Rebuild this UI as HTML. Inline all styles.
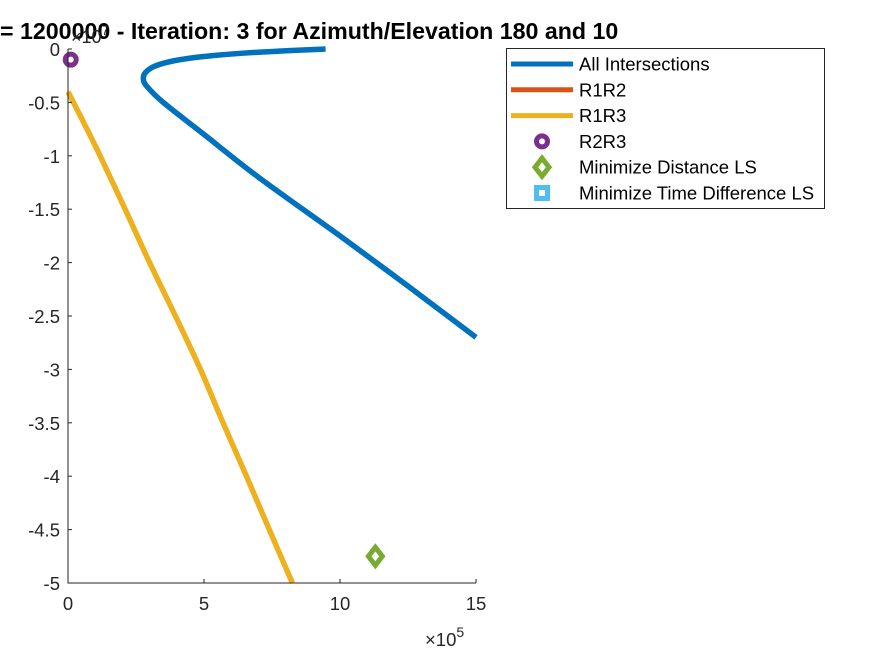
<!DOCTYPE html>
<html><head><meta charset="utf-8"><style>
body{margin:0;background:#fff;}
svg text{font-family:"Liberation Sans",Arial,sans-serif;}
</style></head><body>
<svg id="chart" width="875" height="656" xmlns="http://www.w3.org/2000/svg">
<g id="marks"></g>
<g id="axes"></g>
<text x="0" y="39" font-size="23.2" font-weight="bold" fill="#000">= 1200000 - Iteration: 3 for Azimuth/Elevation 180 and 10</text>
<text x="71" y="43" font-size="18" fill="#262626">×10<tspan dy="-8" font-size="14">7</tspan></text>
<text x="425" y="646" font-size="18.5" fill="#262626">×10<tspan dy="-9" font-size="14">5</tspan></text>
<g>
<rect x="506.5" y="48.5" width="318" height="160" fill="#fff" stroke="#262626" stroke-width="1"/>
<g id="legend-items"></g>
</g>
</svg>
<script>
const xTicks=[0,5,10,15];
const yTicks=[0,-0.5,-1,-1.5,-2,-2.5,-3,-3.5,-4,-4.5,-5];
const yTickLabels=['0','-0.5','-1','-1.5','-2','-2.5','-3','-3.5','-4','-4.5','-5'];
const allX=[9.47,7,5,3.9,3.2,2.85,2.77,2.9,3.5,5,7,10,12.5,15];
const allY=[0.0,-0.03,-0.07,-0.11,-0.16,-0.22,-0.28,-0.35,-0.5,-0.8,-1.2,-1.75,-2.22,-2.7];
const r13X=[0,0.5,1.18,2.1,3.0,3.95,4.87,5.7,6.56,7.4,8.25];
const r13Y=[-0.4,-0.65,-1,-1.5,-2,-2.5,-3,-3.5,-4,-4.5,-5];
const r23=[0.1,-0.1];
const minDist=[11.3,-4.75];
const legendLabels=['All Intersections','R1R2','R1R3','R2R3','Minimize Distance LS','Minimize Time Difference LS'];
const X0=68,X1=476,Y0=49,Y1=583;
const sx=v=>X0+(v-0)/(15-0)*(X1-X0);
const sy=v=>Y0+(0-v)/(0+5)*(Y1-Y0);
const NS='http://www.w3.org/2000/svg';
function mk(t,a,p){const e=document.createElementNS(NS,t);for(const k in a)e.setAttribute(k,a[k]);p.appendChild(e);return e;}
const axes=document.getElementById('axes'),marks=document.getElementById('marks');
const ax=mk('path',{d:`M${X0} ${Y0}V${Y1}H${X1}`,fill:'none',stroke:'#262626','stroke-width':1},axes);


xTicks.forEach(t=>{
 const l=mk('line',{x1:sx(t),x2:sx(t),y1:Y1,y2:Y1-4,stroke:'#262626'},axes);
 
 
 const tx=mk('text',{x:sx(t),y:Y1+27,'text-anchor':'middle','font-size':18.5,fill:'#262626'},axes);
 tx.textContent=t;
 
 
});
yTicks.forEach((t,i)=>{
 const l=mk('line',{x1:X0,x2:X0+4,y1:sy(t),y2:sy(t),stroke:'#262626'},axes);
 
 
 const tx=mk('text',{x:X0-8,y:sy(t)+7,'text-anchor':'end','font-size':18.5,fill:'#262626'},axes);
 tx.textContent=yTickLabels[i];
 
 
});
function smooth(xs,ys){
 const p=xs.map((x,i)=>[sx(x),sy(ys[i])]);
 let d=`M${p[0][0]} ${p[0][1]}`;
 for(let i=0;i<p.length-1;i++){
  const a=p[Math.max(i-1,0)],b=p[i],c=p[i+1],e=p[Math.min(i+2,p.length-1)];
  d+=`C${b[0]+(c[0]-a[0])/6} ${b[1]+(c[1]-a[1])/6} ${c[0]-(e[0]-b[0])/6} ${c[1]-(e[1]-b[1])/6} ${c[0]} ${c[1]}`;
 }
 return d;
}
function line(xs,ys,c){return mk('path',{d:smooth(xs,ys),fill:'none',stroke:c,'stroke-width':5.5,'stroke-linejoin':'round'},marks);}
const la=line(allX,allY,'#0072BD');


const lb=line(r13X,r13Y,'#EDB120');


const c=mk('circle',{cx:sx(r23[0]),cy:sy(r23[1]),r:5.5,fill:'none',stroke:'#7E2F8E','stroke-width':5},marks);


const dx=sx(minDist[0]),dy=sy(minDist[1]);
const d=mk('path',{d:`M${dx} ${dy-9}L${dx+7} ${dy}L${dx} ${dy+9}L${dx-7} ${dy}Z`,fill:'none',stroke:'#77AC30','stroke-width':5},marks);


const lg=document.getElementById('legend-items');
const cols=['#0072BD','#D95319','#EDB120'];
legendLabels.forEach((lab,i)=>{
 const y=64+i*25.8;
 if(i<3){const l=mk('line',{x1:511,x2:573,y1:y,y2:y,stroke:cols[i],'stroke-width':5},lg);
  
  }
 else if(i==3){const m=mk('circle',{cx:542,cy:y,r:5.5,fill:'none',stroke:'#7E2F8E','stroke-width':5},lg);
  
  }
 else if(i==4){const m=mk('path',{d:`M542 ${y-9}L549 ${y}L542 ${y+9}L535 ${y}Z`,fill:'none',stroke:'#77AC30','stroke-width':5},lg);
  
  }
 else {const m=mk('rect',{x:536.5,y:y-5.5,width:11,height:11,fill:'none',stroke:'#4DBEEE','stroke-width':5},lg);
  
  }
 const t=mk('text',{x:579,y:y+6.5,'font-size':18.5,fill:'#000'},lg);
 t.textContent=lab;
 
 
});
</script>
</body></html>
